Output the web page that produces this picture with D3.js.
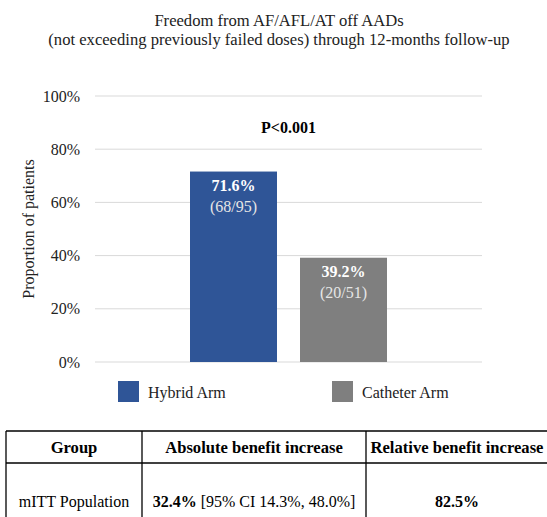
<!DOCTYPE html>
<html>
<head>
<meta charset="utf-8">
<script src="https://cdn.jsdelivr.net/npm/d3@7"></script>
<style>
  body { margin: 0; background: #fff; }
</style>
</head>
<body>
<script>
// chart data
var categories = ['Hybrid Arm', 'Catheter Arm'];
var values = [71.6, 39.2];
var counts = ['(68/95)', '(20/51)'];
var colors = ['#2F5597', '#7F7F7F'];
var yTicks = [0, 20, 40, 60, 80, 100];
var titleLines = ['Freedom from AF/AFL/AT off AADs',
                  '(not exceeding previously failed doses) through 12-months follow-up'];
var pValue = 'P<0.001';

// table data
var tableHeader = ['Group', 'Absolute benefit increase', 'Relative benefit increase'];
var tableRow = ['mITT Population', '32.4%', ' [95% CI 14.3%, 48.0%]', '82.5%'];

var width = 547, height = 517;
var plot = {left: 95, right: 482, top: 96, bottom: 362};
var serif = '"Liberation Serif", "Times New Roman", "DejaVu Serif", serif';

var svg = d3.select('body').append('svg')
    .attr('width', width)
    .attr('height', height)
    .style('font-family', serif);

// title
svg.selectAll('.title')
    .data(titleLines)
    .enter()
    .append('text')
    .attr('class', 'title')
    .attr('x', 279)
    .attr('y', function(d, i) { return 26 + i * 19; })
    .attr('text-anchor', 'middle')
    .style('font-family', serif)
    .style('font-size', '16.6px')
    .attr('fill', '#222')
    .text(function(d) { return d; });

// scales
var x = d3.scaleBand().domain(categories).range([190, 387]).paddingInner(23 / 110);
var y = d3.scaleLinear().domain([0, 100]).range([plot.bottom, plot.top]);

// gridlines
svg.append('g')
    .selectAll('line')
    .data(yTicks)
    .enter()
    .append('line')
    .attr('x1', plot.left)
    .attr('x2', plot.right)
    .attr('y1', function(d) { return y(d); })
    .attr('y2', function(d) { return y(d); })
    .attr('stroke', '#d9d9d9')
    .attr('stroke-width', 1);

// y axis labels
var yAxis = svg.append('g')
    .attr('transform', 'translate(' + (plot.left - 6) + ',0)')
    .call(d3.axisLeft(y).tickValues(yTicks).tickSize(0).tickPadding(9)
      .tickFormat(function(d) { return d + '%'; }));
yAxis.attr('font-family', null).attr('font-size', null);
yAxis.select('.domain').remove();
yAxis.selectAll('text')
    .style('font-family', serif)
    .style('font-size', '16px')
    .attr('fill', '#222');

// y axis title
svg.append('text')
    .attr('transform', 'translate(34,' + ((plot.top + plot.bottom) / 2) + ') rotate(-90)')
    .attr('text-anchor', 'middle')
    .style('font-family', serif)
    .style('font-size', '16px')
    .attr('fill', '#222')
    .text('Proportion of patients');

// bars
svg.selectAll('.bar')
    .data(values)
    .enter()
    .append('rect')
    .attr('class', 'bar')
    .attr('x', function(d, i) { return x(categories[i]); })
    .attr('y', function(d) { return y(d); })
    .attr('width', x.bandwidth())
    .attr('height', function(d) { return y(0) - y(d); })
    .attr('fill', function(d, i) { return colors[i]; });

// bar labels
svg.selectAll('.barlabel')
    .data(values)
    .enter()
    .append('text')
    .attr('class', 'barlabel')
    .attr('x', function(d, i) { return x(categories[i]) + x.bandwidth() / 2; })
    .attr('y', function(d) { return y(d) + 19.5; })
    .attr('text-anchor', 'middle')
    .attr('fill', '#fff')
    .style('font-family', serif)
    .style('font-size', '16px')
    .style('font-weight', 'bold')
    .text(function(d) { return d.toFixed(1) + '%'; });

svg.selectAll('.countlabel')
    .data(values)
    .enter()
    .append('text')
    .attr('class', 'countlabel')
    .attr('x', function(d, i) { return x(categories[i]) + x.bandwidth() / 2; })
    .attr('y', function(d) { return y(d) + 40; })
    .attr('text-anchor', 'middle')
    .attr('fill', '#e6e6e6')
    .style('font-family', serif)
    .style('font-size', '16px')
    .text(function(d, i) { return counts[i]; });

// p value
svg.append('text')
    .attr('x', (x(categories[0]) + x(categories[1]) + x.bandwidth()) / 2)
    .attr('y', 133)
    .attr('text-anchor', 'middle')
    .style('font-family', serif)
    .style('font-size', '16px')
    .style('font-weight', 'bold')
    .text(pValue);

// legend
var legendX = [118, 332];
var legend = svg.selectAll('.legend')
    .data(categories)
    .enter()
    .append('g')
    .attr('class', 'legend')
    .attr('transform', function(d, i) { return 'translate(' + legendX[i] + ',381)'; });
legend.append('rect')
    .attr('width', 21)
    .attr('height', 21)
    .attr('fill', function(d, i) { return colors[i]; });
legend.append('text')
    .attr('x', 30)
    .attr('y', 17)
    .style('font-family', serif)
    .style('font-size', '16px')
    .attr('fill', '#222')
    .text(function(d) { return d; });

// table
var colX = [6, 142, 366, 548];
var rowY = [431, 463, 541];
var table = svg.append('g').attr('class', 'table');

table.selectAll('.hline')
    .data(rowY)
    .enter()
    .append('line')
    .attr('x1', colX[0])
    .attr('x2', colX[3])
    .attr('y1', function(d) { return d; })
    .attr('y2', function(d) { return d; })
    .attr('stroke', '#000')
    .attr('stroke-width', 1.3);

table.selectAll('.vline')
    .data(colX)
    .enter()
    .append('line')
    .attr('x1', function(d) { return d; })
    .attr('x2', function(d) { return d; })
    .attr('y1', rowY[0])
    .attr('y2', rowY[2])
    .attr('stroke', '#000')
    .attr('stroke-width', 1.3);

table.selectAll('.head')
    .data(tableHeader)
    .enter()
    .append('text')
    .attr('x', function(d, i) { return (colX[i] + colX[i + 1]) / 2; })
    .attr('y', 453)
    .attr('text-anchor', 'middle')
    .style('font-family', serif)
    .style('font-size', '16.6px')
    .style('font-weight', 'bold')
    .text(function(d) { return d; });

table.append('text')
    .attr('x', (colX[0] + colX[1]) / 2)
    .attr('y', 507)
    .attr('text-anchor', 'middle')
    .style('font-family', serif)
    .style('font-size', '16px')
    .text(tableRow[0]);

var mid = table.append('text')
    .attr('x', (colX[1] + colX[2]) / 2)
    .attr('y', 507)
    .attr('text-anchor', 'middle')
    .style('font-family', serif)
    .style('font-size', '16px');
mid.append('tspan').style('font-weight', 'bold').text(tableRow[1]);
mid.append('tspan').text(tableRow[2]);

table.append('text')
    .attr('x', (colX[2] + colX[3]) / 2)
    .attr('y', 507)
    .attr('text-anchor', 'middle')
    .style('font-family', serif)
    .style('font-size', '16px')
    .style('font-weight', 'bold')
    .text(tableRow[3]);
</script>
</body>
</html>
